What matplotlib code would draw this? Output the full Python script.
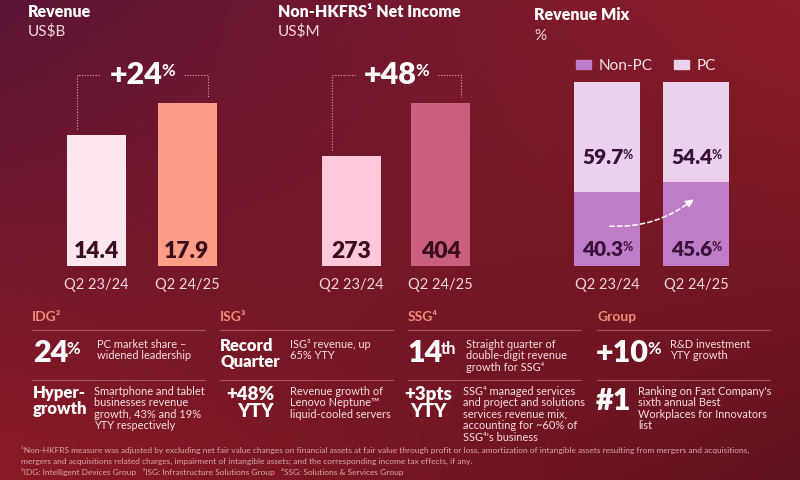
import matplotlib.pyplot as plt
import numpy as np
from matplotlib.colors import to_rgb
from matplotlib.patches import FancyArrowPatch, Patch

plt.rcParams['font.family'] = ['Lato', 'DejaVu Sans']

periods = ["Q2 23/24", "Q2 24/25"]
revenue = [14.4, 17.9]
revenue_growth = "+24"
net_income = [273, 404]
income_growth = "+48"
mix_non_pc = [40.3, 45.6]
mix_pc = [59.7, 54.4]

W, H = 800, 480
fig = plt.figure(figsize=(8, 4.8), dpi=100)


def px_axes(x0, y0, x1, y1):
    return fig.add_axes([x0 / W, 1 - y1 / H, (x1 - x0) / W, (y1 - y0) / H])


def ftext(x, y, s, **kw):
    return fig.text(x / W, 1 - y / H, s, **kw)


# background gradient
bg = px_axes(0, 0, W, H)
tl, tr, bl, br = [np.array(to_rgb(c)) for c in ("#5c1536", "#8c1c26", "#8a1a24", "#621220")]
u = np.linspace(0, 1, 200)[None, :, None]
v = np.linspace(0, 1, 120)[:, None, None]
img = (1 - v) * ((1 - u) * tl + u * tr) + v * ((1 - u) * bl + u * br)
bg.imshow(img, aspect='auto', extent=[0, 1, 0, 1])
bg.set_xlim(0, 1)
bg.set_ylim(0, 1)
bg.axis('off')

WHITE = "#ffffff"
SOFT = "#f4d8dc"
DARK = "#3a0e1c"
DOT = "#d8a8b0"


def superscript(ax, main, suffix, size, dx=-1.0):
    return ax.annotate(suffix, xy=(1, 0.92), xycoords=main, xytext=(dx, 0),
                       textcoords='offset points', ha='left', va='top',
                       fontsize=size, fontweight='bold', color=main.get_color())


def growth_panel(c0, sp, width_px, values, colors, growth, title, unit, title_x):
    ax = px_axes(c0 - 0.7 * sp, 60, c0 + 1.7 * sp, 266)
    top = max(values) * 206 / 163
    upp = top / 206
    x = np.arange(len(values))
    ax.bar(x, values, width=width_px / sp, color=colors)
    ax.set_xlim(-0.7, 1.7)
    ax.set_ylim(0, top)
    ax.axis('off')
    for i, val in enumerate(values):
        ax.text(i, 14 * upp, f"{val:g}", ha='center', va='center',
                fontsize=16.5, fontweight='heavy', color=DARK)
        ax.text(i, -19 * upp, periods[i], ha='center', va='center',
                fontsize=10.5, color=SOFT, clip_on=False)
    yl = 191 * upp
    gap = 6 * upp
    ls = (0, (1, 1.5))
    ax.plot([-0.22, -0.22, 0.04], [values[0] + gap, yl, yl], color=DOT, lw=0.8, ls=ls)
    ax.plot([0.97, 1.23, 1.23], [yl, yl, values[1] + gap], color=DOT, lw=0.8, ls=ls)
    main = ax.text(0.5 + 21 / sp, yl, growth, ha='right', va='center',
                   fontsize=22, fontweight='heavy', color=WHITE)
    superscript(ax, main, "%", 12)
    ftext(title_x, 12, title, fontsize=11.5, fontweight='heavy', color=WHITE, va='center')
    ftext(title_x, 31, unit, fontsize=11, color=SOFT, va='center')


growth_panel(96.5, 90.5, 59, revenue, ["#fde6ee", "#ff9e86"], revenue_growth,
             "Revenue", "US$B", 28)
growth_panel(351.5, 89, 59, net_income, ["#ffc9da", "#cc5e7e"], income_growth,
             "Non-HKFRS¹ Net Income", "US$M", 278)

# revenue mix
sp = 89
ax = px_axes(607 - 0.7 * sp, 60, 607 + 1.7 * sp, 266)
x = np.arange(len(mix_pc))
ax.bar(x, mix_non_pc, width=66 / sp, color="#c07cc8", label="Non-PC")
ax.bar(x, mix_pc, bottom=mix_non_pc, width=66 / sp, color="#ead2ee", label="PC")
ax.set_xlim(-0.7, 1.7)
ax.set_ylim(0, 112)
ax.axis('off')
MIXTXT = "#3a1238"
for i in x:
    for val, yy in ((mix_pc[i], 59.2), (mix_non_pc[i], 9.2)):
        m = ax.annotate(f"{val:.1f}", xy=(i, yy), xytext=(12, 0), textcoords='offset points',
                        ha='right', va='center', fontsize=15, fontweight='heavy', color=MIXTXT)
        superscript(ax, m, "%", 9)
    ax.text(i, -19 / 1.84, periods[i], ha='center', va='center',
            fontsize=10.5, color=SOFT, clip_on=False)
ax.legend(handles=[Patch(color="#c07cc8", label="Non-PC"), Patch(color="#ead2ee", label="PC")],
          ncol=2, loc='center', bbox_to_anchor=(0.474, 0.971), frameon=False,
          handlelength=1.0, handleheight=0.5, handletextpad=0.5, columnspacing=1.4,
          labelcolor="#f5e2ec", fontsize=11)
arrow = FancyArrowPatch((0, mix_non_pc[0] * 0.54), (1.0, mix_non_pc[1] * 0.82),
                        connectionstyle='arc3,rad=0.2', arrowstyle='-|>', mutation_scale=12,
                        color=WHITE, lw=1.1, ls=(0, (3, 2)))
ax.add_patch(arrow)
ftext(534, 15, "Revenue Mix", fontsize=11.5, fontweight='heavy', color=WHITE, va='center')
ftext(534, 36, "%", fontsize=11, color=SOFT, va='center')

# segment highlights
HEAD = "#f08a78"
LINE = "#a65262"
col_x = [32, 220, 408, 597]
headers = ["IDG²", "ISG³", "SSG⁴", "Group"]
for cx, hd in zip(col_x, headers):
    ftext(cx, 317, hd, fontsize=10, fontweight='bold', color=HEAD, va='center')
    for ly in (330, 380):
        bg.plot([cx / W, (cx + 173) / W], [1 - ly / H, 1 - ly / H], color=LINE, lw=0.8)

DESC = dict(fontsize=7.9, color="#f6dfe2", va='top', linespacing=1.05)
BIG = dict(fontweight='heavy', color=WHITE, va='center')

# IDG
m = ftext(33, 353, "24", fontsize=22, **BIG)
superscript(bg, m, "%", 12)
ftext(97, 339, "PC market share –\nwidened leadership", **DESC)
ftext(33, 401, "Hyper-\ngrowth", fontsize=12, linespacing=0.95, **BIG)
ftext(94, 386, "Smartphone and tablet\nbusinesses revenue\ngrowth, 43% and 19%\nYTY respectively", **DESC)

# ISG
ftext(220, 354, "Record\nQuarter", fontsize=12, linespacing=0.95, **BIG)
ftext(290, 339, "ISG³ revenue, up\n65% YTY", **DESC)
ftext(274, 403, "+48%\nYTY", fontsize=13.5, linespacing=0.95, ha='right', multialignment='right', **BIG)
ftext(290, 386, "Revenue growth of\nLenovo Neptune™\nliquid-cooled servers", **DESC)

# SSG
m = ftext(407, 353, "14", fontsize=22, **BIG)
superscript(bg, m, "th", 12)
ftext(466, 339, "Straight quarter of\ndouble-digit revenue\ngrowth for SSG⁴", **DESC)
ftext(452, 403, "+3pts\nYTY", fontsize=13.5, linespacing=0.95, ha='right', multialignment='center', **BIG)
ftext(463, 386, "SSG⁴ managed services\nand project and solutions\nservices revenue mix,\naccounting for ~60% of\nSSG⁴'s business", **DESC)

# Group
m = ftext(596, 353, "+10", fontsize=22, **BIG)
superscript(bg, m, "%", 12)
ftext(670, 339, "R&D investment\nYTY growth", **DESC)
ftext(596, 401, "#1", fontsize=22, **BIG)
ftext(638, 386, "Ranking on Fast Company's\nsixth annual Best\nWorkplaces for Innovators\nlist", **DESC)

# footnotes
FOOT = dict(fontsize=6.0, color="#d9a9b0", va='center')
ftext(21, 450, "¹Non-HKFRS measure was adjusted by excluding net fair value changes on financial assets at fair value through profit or loss, "
      "amortization of intangible assets resulting from mergers and acquisitions,", **FOOT)
ftext(21, 461, "mergers and acquisitions related charges, impairment of intangible assets; and the corresponding income tax effects, if any.", **FOOT)
ftext(21, 472, "²IDG: Intelligent Devices Group   ³ISG: Infrastructure Solutions Group   ⁴SSG: Solutions & Services Group", **FOOT)

fig.savefig("out.png", dpi=100)
